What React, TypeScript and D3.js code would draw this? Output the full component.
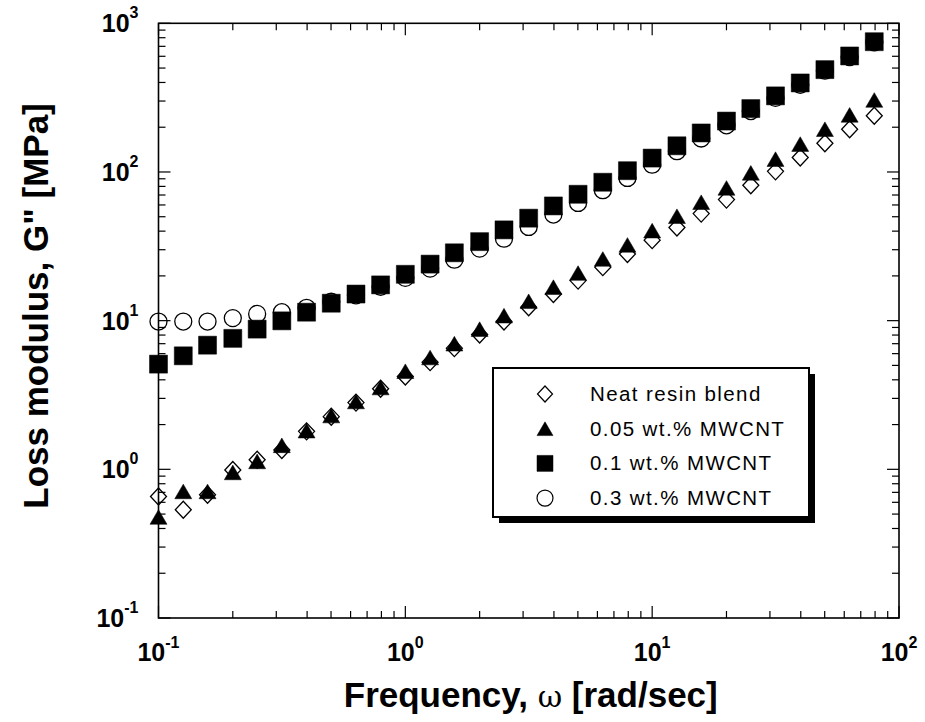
import React, { useRef, useEffect } from 'react';
import * as d3 from 'd3';

const W = 925;
const H = 722;
const MARGIN = { top: 23.3, right: 26, bottom: 104, left: 158.5 };

// angular frequency, 10 points per decade
const FREQ = [
  0.1, 0.126, 0.158, 0.2, 0.251, 0.316, 0.398, 0.501, 0.631, 0.794,
  1, 1.26, 1.58, 2, 2.51, 3.16, 3.98, 5.01, 6.31, 7.94,
  10, 12.6, 15.8, 20, 25.1, 31.6, 39.8, 50.1, 63.1, 79.4,
];

const NEAT = [
  0.657, 0.535, 0.675, 0.99, 1.16, 1.35, 1.8, 2.26, 2.81, 3.48,
  4.21, 5.26, 6.53, 8.07, 9.86, 12.3, 15.1, 18.6, 22.9, 28.1,
  34.8, 42.3, 52.5, 65.2, 81.5, 101, 125, 156, 194, 239,
];
const MW005 = [
  0.478, 0.71, 0.71, 0.953, 1.13, 1.45, 1.82, 2.3, 2.86, 3.55,
  4.57, 5.65, 7.0, 8.77, 10.8, 13.5, 16.8, 20.9, 26.0, 32.3,
  40.3, 50.4, 62.6, 78.1, 98.6, 122, 154, 194, 242, 305,
];
const MW01 = [
  5.1, 5.8, 6.84, 7.6, 8.77, 9.97, 11.4, 13.1, 15.1, 17.4,
  20.5, 24, 28.6, 34, 40.8, 48.9, 59.1, 70.8, 85.3, 102,
  124, 150, 183, 220, 267, 325, 397, 488, 603, 752,
];
const MW03 = [
  9.86, 9.86, 9.86, 10.4, 11.1, 11.4, 12.2, 13.4, 14.8, 16.9,
  19.4, 22.4, 25.7, 30.5, 35.6, 42.7, 51.7, 61.9, 75.4, 91.2,
  112, 138, 168, 206, 257, 315, 386, 480, 593, 745,
];

const SERIES_NAMES = ['Neat resin blend', '0.05 wt.% MWCNT', '0.1 wt.% MWCNT', '0.3 wt.% MWCNT'];
const X_DECADES = [-1, 0, 1, 2];
const Y_DECADES = [-1, 0, 1, 2, 3];

const FONT = '"Liberation Sans", Arial, Helvetica, sans-serif';

type Shape = 'diamond' | 'triangle' | 'square' | 'circle';

function markerPath(shape: Shape, s: number): string {
  const h = s / 2;
  if (shape === 'diamond') return `M0,${-h}L${h * 0.94},0L0,${h}L${-h * 0.94},0Z`;
  if (shape === 'triangle') {
    const th = s * 0.43;
    return `M0,${-th}L${h},${th}L${-h},${th}Z`;
  }
  if (shape === 'square') return `M${-h},${-h}H${h}V${h}H${-h}Z`;
  return d3.symbol().type(d3.symbolCircle).size(Math.PI * h * h)() as string;
}

export default function App() {
  const svgRef = useRef<SVGSVGElement>(null);

  useEffect(() => {
    const svg = d3.select(svgRef.current);
    svg.selectAll('*').remove();

    const x = d3.scaleLog().domain([0.1, 100]).range([MARGIN.left, W - MARGIN.right]);
    const y = d3.scaleLog().domain([0.1, 1000]).range([H - MARGIN.bottom, MARGIN.top]);
    const [x0, x1] = x.range();
    const [y0, y1] = y.range();

    svg.append('rect').attr('width', W).attr('height', H).attr('fill', '#fff');

    // data series: drawn so that filled marks sit on top of hollow ones
    const series: { name: string; values: number[]; shape: Shape; fill: string; size: number }[] = [
      { name: SERIES_NAMES[0], values: NEAT, shape: 'diamond', fill: '#fff', size: 17 },
      { name: SERIES_NAMES[1], values: MW005, shape: 'triangle', fill: '#000', size: 17 },
      { name: SERIES_NAMES[3], values: MW03, shape: 'circle', fill: '#fff', size: 17 },
      { name: SERIES_NAMES[2], values: MW01, shape: 'square', fill: '#000', size: 18 },
    ];

    series.forEach((s) => {
      svg.append('g')
        .selectAll('path')
        .data(s.values.map((v, i) => [FREQ[i], v]))
        .join('path')
        .attr('transform', d => `translate(${x(d[0])},${y(d[1])})`)
        .attr('d', markerPath(s.shape, s.size))
        .attr('fill', s.fill)
        .attr('stroke', '#000')
        .attr('stroke-width', s.fill === '#000' ? 0.5 : 1.3);
    });

    // frame + ticks on all sides, pointing inward
    const axes = svg.append('g').attr('stroke', '#000');
    axes.append('rect')
      .attr('x', x0).attr('y', y1)
      .attr('width', x1 - x0).attr('height', y0 - y1)
      .attr('fill', 'none').attr('stroke-width', 1.6);

    const logTicks = (decades: number[]) => {
      const out: { v: number; major: boolean }[] = [];
      decades.forEach((e, k) => {
        out.push({ v: Math.pow(10, e), major: true });
        if (k < decades.length - 1) {
          for (let m = 2; m <= 9; m++) out.push({ v: m * Math.pow(10, e), major: false });
        }
      });
      return out;
    };

    const MAJ = 12;
    const MIN = 7;
    logTicks(X_DECADES).forEach(t => {
      const px = x(t.v);
      const len = t.major ? MAJ : MIN;
      axes.append('line').attr('x1', px).attr('x2', px).attr('y1', y0).attr('y2', y0 - len).attr('stroke-width', 1.2);
      axes.append('line').attr('x1', px).attr('x2', px).attr('y1', y1).attr('y2', y1 + len).attr('stroke-width', 1.2);
    });
    logTicks(Y_DECADES).forEach(t => {
      const py = y(t.v);
      const len = t.major ? MAJ : MIN;
      axes.append('line').attr('y1', py).attr('y2', py).attr('x1', x0).attr('x2', x0 + len).attr('stroke-width', 1.2);
      axes.append('line').attr('y1', py).attr('y2', py).attr('x1', x1).attr('x2', x1 - len).attr('stroke-width', 1.2);
    });

    // tick labels 10^n
    const powLabel = (g: d3.Selection<SVGTextElement, unknown, null, undefined>, e: number, dy: number) => {
      g.append('tspan').text('10');
      g.append('tspan').attr('font-size', 16).attr('dy', dy).text(String(e));
    };

    X_DECADES.forEach(e => {
      const t = svg.append('text')
        .attr('x', x(Math.pow(10, e)))
        .attr('y', y0 + 43)
        .attr('text-anchor', 'middle')
        .attr('font-family', FONT).attr('font-weight', 'bold').attr('font-size', 25);
      powLabel(t, e, -13);
    });
    Y_DECADES.forEach(e => {
      const t = svg.append('text')
        .attr('x', x0 - 20)
        .attr('y', y(Math.pow(10, e)) + 9)
        .attr('text-anchor', 'end')
        .attr('font-family', FONT).attr('font-weight', 'bold').attr('font-size', 25);
      powLabel(t, e, -14);
    });

    // axis titles
    const xt = svg.append('text')
      .attr('x', (x0 + x1) / 2 + 2)
      .attr('y', 707)
      .attr('text-anchor', 'middle')
      .attr('font-family', FONT).attr('font-weight', 'bold').attr('font-size', 35);
    xt.append('tspan').text('Frequency, ');
    xt.append('tspan').attr('font-family', '"DejaVu Serif", serif').attr('font-weight', 'normal').attr('font-size', 30).text('ω');
    xt.append('tspan').text(' [rad/sec]');

    svg.append('text')
      .attr('transform', `translate(48,${306}) rotate(-90)`)
      .attr('text-anchor', 'middle')
      .attr('font-family', FONT).attr('font-weight', 'bold').attr('font-size', 35)
      .text('Loss modulus, G" [MPa]');

    // legend with drop shadow
    const lg = svg.append('g');
    const box = { x: 493, y: 368, w: 316, h: 149 };
    lg.append('rect').attr('x', box.x + 6).attr('y', box.y + 6).attr('width', box.w).attr('height', box.h).attr('fill', '#000');
    lg.append('rect').attr('x', box.x).attr('y', box.y).attr('width', box.w).attr('height', box.h)
      .attr('fill', '#fff').attr('stroke', '#000').attr('stroke-width', 2);

    const legendOrder: { name: string; shape: Shape; fill: string }[] = [
      { name: SERIES_NAMES[0], shape: 'diamond', fill: '#fff' },
      { name: SERIES_NAMES[1], shape: 'triangle', fill: '#000' },
      { name: SERIES_NAMES[2], shape: 'square', fill: '#000' },
      { name: SERIES_NAMES[3], shape: 'circle', fill: '#fff' },
    ];
    legendOrder.forEach((d, i) => {
      const cy = 394 + i * 34.7;
      lg.append('path')
        .attr('transform', `translate(545,${cy})`)
        .attr('d', markerPath(d.shape, 16))
        .attr('fill', d.fill).attr('stroke', '#000').attr('stroke-width', d.fill === '#000' ? 0.5 : 1.2);
      lg.append('text')
        .attr('x', 590).attr('y', cy + 7)
        .attr('font-family', FONT).attr('font-size', 20.5)
        .attr('letter-spacing', 1.4)
        .text(d.name);
    });
  }, []);

  return (
    <svg
      ref={svgRef}
      width={W}
      height={H}
      style={{ position: 'absolute', left: 0, top: 0, display: 'block' }}
    />
  );
}
